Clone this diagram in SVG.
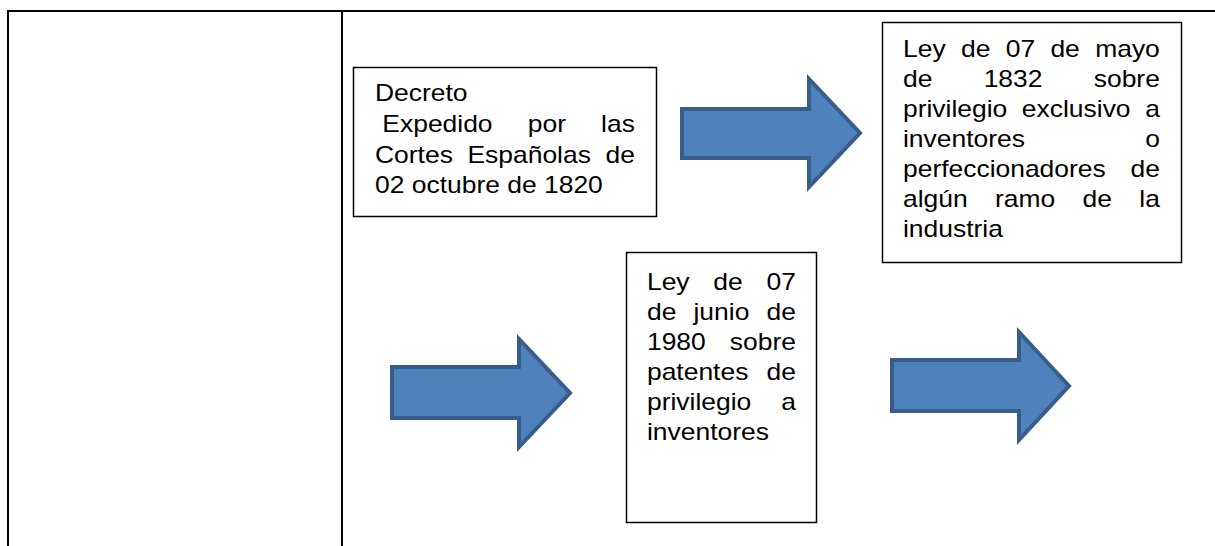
<svg xmlns="http://www.w3.org/2000/svg" width="1215" height="546" viewBox="0 0 1215 546">
<style>
.tbl{stroke:#000;stroke-width:2;fill:none}
.box{fill:#fff;stroke:#000;stroke-width:1.5}
.arr{fill:#4F81BD;stroke:#385D8A;stroke-width:4;stroke-linejoin:miter}
text{font-family:"Liberation Sans",Arial,sans-serif;font-size:23px;fill:#000}
</style>
<rect x="0" y="0" width="1215" height="546" fill="#fff"/>
<g id="table">
<line class="tbl" x1="7" y1="11" x2="1215" y2="11"/>
<line class="tbl" x1="8" y1="10" x2="8" y2="546"/>
<line class="tbl" x1="342" y1="10" x2="342" y2="546"/>
</g>
<g id="connectors">
<path class="arr" d="M682,109 H809 V79 L860,133 L809,187 V158 H682 Z"/>
<path class="arr" d="M392,367 H519 V339 L570,393 L519,447 V418 H392 Z"/>
<path class="arr" d="M892,360 H1019 V332 L1069,386 L1019,440 V411 H892 Z"/>
</g>
<g id="node-decreto">
<rect class="box" x="353.5" y="67.5" width="303" height="149"/>
<g transform="scale(1.15 1)">
<text x="326.1" y="101.5">Decreto</text>
<text x="332.5" y="132" word-spacing="24.2">Expedido por las</text>
<text x="326.1" y="163" word-spacing="6.3">Cortes Españolas de</text>
<text x="326.1" y="193.5">02 octubre de 1820</text>
</g>
</g>
<g id="node-ley-1832">
<rect class="box" x="882.5" y="22.5" width="299" height="240"/>
<g transform="scale(1.15 1)">
<text x="785.2" y="57" word-spacing="6.96">Ley de 07 de mayo</text>
<text x="785.2" y="87" word-spacing="38.2">de 1832 sobre</text>
<text x="785.2" y="117" word-spacing="6.3">privilegio exclusivo a</text>
<text x="785.2" y="147" word-spacing="98.2">inventores o</text>
<text x="785.2" y="177" word-spacing="15.1">perfeccionadores de</text>
<text x="785.2" y="207" word-spacing="17.4">algún ramo de la</text>
<text x="785.2" y="237">industria</text>
</g>
</g>
<g id="node-ley-1980">
<rect class="box" x="626.5" y="252.5" width="190" height="270"/>
<g transform="scale(1.15 1)">
<text x="562.6" y="290" word-spacing="14.3">Ley de 07</text>
<text x="562.6" y="320" word-spacing="8.5">de junio de</text>
<text x="562.6" y="350" word-spacing="14.5">1980 sobre</text>
<text x="562.6" y="380" word-spacing="9.4">patentes de</text>
<text x="562.6" y="410" word-spacing="19.7">privilegio a</text>
<text x="562.6" y="440">inventores</text>
</g>
</g>
</svg>
